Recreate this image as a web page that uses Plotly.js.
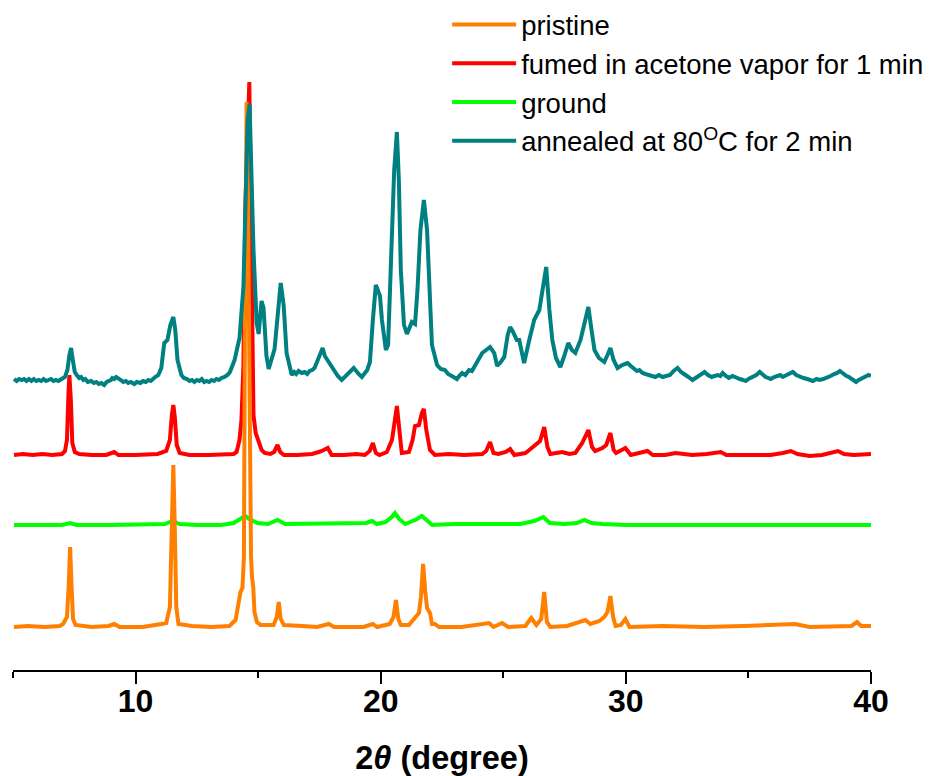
<!DOCTYPE html>
<html>
<head>
<meta charset="utf-8">
<script src="https://cdn.plot.ly/plotly-3.0.1.min.js"></script>
<style>
  html, body { margin: 0; padding: 0; background: #ffffff; }
  #chart { width: 932px; height: 776px; }
</style>
</head>
<body>
<div id="chart"></div>
<script>
// ---- Data (2θ in degrees, intensity in arbitrary units) ----
const seriesNames = ['pristine', 'fumed in acetone vapor for 1 min', 'ground', 'annealed at 80<sup>O</sup>C for 2 min'];

const pristineX = [5.04,5.6,6.3,6.9,7.04,7.2,7.27,7.33,7.39,7.45,7.55,8.2,8.9,9.13,9.35,10.3,11.05,11.25,11.4,11.48,11.54,11.6,11.66,11.75,12.3,13.1,13.83,14.08,14.2,14.28,14.36,14.42,14.46,14.5,14.53,14.57,14.62,14.67,14.71,14.75,14.8,14.85,14.95,15.1,15.63,15.76,15.84,15.92,16.05,16.8,17.4,17.88,18.1,19.3,19.68,19.85,20.37,20.52,20.62,20.72,20.82,21.15,21.4,21.56,21.64,21.73,21.82,21.89,22.01,22.09,22.21,22.38,23.3,24.42,24.6,24.95,25.2,25.9,26.14,26.35,26.55,26.67,26.78,26.92,27.6,28.35,28.55,28.92,29.12,29.25,29.37,29.48,29.58,29.8,29.98,30.15,31.5,33.2,34.8,36.9,37.5,39.2,39.43,39.6,40];
const pristineY = [0,1,0,1,3,10,40,80,40,8,2,0,1,3,0,0,3,4,20,100,162,100,20,3,1,0,1,7,27,35,39,70,300,480,525,470,300,150,70,50,40,15,5,2,2,10,25,8,2,1,0,3,0,0,3,0,3,10,27,8,2,2,9,14,30,63,35,19,14,3,3,0,0,4,0,4,0,1,9,2,8,35,5,0,1,7,3,6,10,15,31,10,1,2,8,0,1,0,1,3,0,1,5,1,1];

const fumedX = [5.04,5.4,5.8,6.2,6.6,7.0,7.12,7.2,7.26,7.3,7.36,7.42,7.52,7.7,8.2,8.8,9.13,9.3,10.0,10.9,11.25,11.4,11.48,11.54,11.6,11.68,11.8,12.2,13.0,13.6,14.0,14.12,14.24,14.32,14.4,14.48,14.57,14.64,14.7,14.77,14.81,14.9,15.02,15.14,15.26,15.5,15.65,15.79,15.9,16.05,16.6,17.2,17.47,17.6,17.84,18.0,18.5,19.0,19.35,19.55,19.68,19.8,19.95,20.25,20.46,20.58,20.66,20.74,20.86,21.15,21.3,21.4,21.56,21.68,21.76,21.86,22.01,22.21,22.8,23.4,24.14,24.3,24.46,24.6,24.8,25.1,25.28,25.45,25.9,26.06,26.3,26.5,26.67,26.8,26.92,27.4,27.7,27.94,28.22,28.47,28.62,28.75,29.04,29.2,29.37,29.5,29.6,29.98,30.2,30.88,31.1,31.6,32.03,32.4,32.7,33.3,33.87,34.1,34.8,35.5,35.9,36.4,36.73,37.0,37.5,38.0,38.4,38.65,38.9,39.3,40];
const fumedY = [0,1,0,1,0,1,4,15,60,80,55,12,3,1,0,0,3,0,0,1,4,15,40,50,38,10,2,0,0,1,1,3,15,35,90,250,330,373,250,90,40,22,12,5,2,1,3,10,3,0,0,1,3,4,7,0,0,1,0,4,12,2,0,3,15,40,49,30,2,3,15,29,30,42,46,25,5,0,1,0,1,4,13,2,1,3,6,0,2,5,10,14,28,8,1,3,1,2,12,25,8,4,7,10,22,5,2,7,0,4,0,0,2,1,0,1,3,0,0,0,0,2,4,1,-1,0,2,4,1,0,1];

const groundX = [5.04,6.0,7.0,7.33,7.6,9.0,10.5,11.2,11.5,11.8,12.5,13.5,14.0,14.3,14.47,14.7,14.98,15.4,15.79,16.1,17.0,18.0,19.0,19.4,19.64,19.85,20.2,20.45,20.58,20.75,21.0,21.4,21.68,21.9,22.1,23.0,24.0,25.0,25.7,26.26,26.63,26.9,27.5,28.0,28.31,28.6,29.04,30.0,31.0,33.0,35.0,37.0,40];
const groundY = [0,0,0,2,0,0,0,1,4,1,0,0,2,7,9,5,2,1,5,1,1,1,1,2,4,1,3,8,12,6,1,5,9,4,0,1,1,2,1,4,8,2,1,2,5,2,1,0,0,0,0,0,0];

// annealed pattern as [2θ, intensity] pairs
const annealedPts = [
  [5.04,1],[5.15,-1],[5.25,1],[5.35,0],[5.45,1],[5.55,-1],[5.65,1],[5.75,-1],[5.85,1],[5.95,-1],
  [6.05,0],[6.15,-1],[6.25,1],[6.35,-1],[6.45,0],[6.55,1],[6.65,-1],[6.75,0],[6.85,-1],[6.95,1],
  [7.05,2],[7.12,3],[7.22,10],[7.3,25],[7.37,32],[7.44,20],[7.52,8],[7.6,5],[7.7,2],[7.78,3],
  [7.87,0],[7.95,1],[8.05,-2],[8.19,-1],[8.3,-3],[8.4,-2],[8.5,-4],[8.6,-3],[8.72,-5],[8.82,-2],
  [8.9,-1],[9.0,0],[9.05,2],[9.13,1],[9.21,3],[9.3,1],[9.4,0],[9.5,-2],[9.6,-1],[9.7,-3],
  [9.8,-2],[9.95,-4],[10.05,-2],[10.2,-3],[10.3,-1],[10.42,-2],[10.52,0],[10.62,-1],[10.7,1],[10.8,3],
  [10.93,5],[11.05,12],[11.17,37],[11.3,40],[11.42,55],[11.54,63],[11.62,50],[11.71,20],[11.87,5],[11.97,2],
  [12.1,1],[12.2,-1],[12.3,0],[12.4,-2],[12.5,0],[12.6,-1],[12.7,1],[12.8,-2],[12.9,-1],[13.0,-2],
  [13.1,0],[13.2,-1],[13.3,1],[13.4,0],[13.5,2],[13.63,3],[13.75,5],[13.85,8],[14.04,20],[14.24,42],
  [14.4,93],[14.49,185],[14.57,258],[14.65,276],[14.69,240],[14.81,130],[14.94,57],[15.02,46],[15.14,79],[15.22,72],
  [15.34,24],[15.43,11],[15.67,31],[15.84,75],[15.92,97],[16.04,75],[16.16,27],[16.37,5],[16.47,8],[16.55,6],
  [16.65,9],[16.78,7],[16.9,8],[17.0,6],[17.1,9],[17.2,10],[17.3,12],[17.4,18],[17.55,28],[17.63,32],
  [17.72,24],[17.88,18],[18.1,8],[18.25,4],[18.41,0],[18.6,5],[18.9,12],[19.1,6],[19.23,3],[19.45,10],
  [19.56,18],[19.68,60],[19.8,95],[19.88,90],[19.97,84],[20.05,60],[20.21,30],[20.3,35],[20.42,110],[20.55,210],
  [20.66,248],[20.74,200],[20.82,110],[20.95,55],[21.07,46],[21.2,54],[21.27,58],[21.4,56],[21.5,90],[21.62,150],
  [21.76,180],[21.89,150],[22.0,80],[22.09,35],[22.3,15],[22.45,11],[22.62,10],[22.75,6],[22.9,4],[23.0,3],
  [23.11,1],[23.2,4],[23.32,7],[23.45,5],[23.6,10],[23.72,9],[23.85,15],[24.0,20],[24.14,27],[24.3,30],
  [24.46,33],[24.63,27],[24.75,14],[24.9,18],[25.04,23],[25.18,45],[25.28,53],[25.4,48],[25.55,40],[25.65,40],
  [25.85,17],[26.06,40],[26.26,60],[26.47,70],[26.62,95],[26.75,113],[26.88,70],[27.0,40],[27.15,22],[27.33,13],
  [27.5,25],[27.65,37],[27.8,30],[27.94,27],[28.15,40],[28.35,60],[28.47,73],[28.6,50],[28.72,30],[28.9,22],
  [29.12,18],[29.25,25],[29.37,32],[29.5,20],[29.66,12],[29.85,15],[30.07,17],[30.2,14],[30.3,12],[30.45,9],
  [30.55,10],[30.68,7],[30.8,6],[30.95,5],[31.09,4],[31.2,3],[31.35,5],[31.5,3],[31.65,4],[31.8,5],
  [31.95,9],[32.11,12],[32.25,8],[32.4,5],[32.55,3],[32.72,0],[32.85,2],[33.0,4],[33.1,6],[33.21,8],
  [33.35,5],[33.5,3],[33.62,4],[33.75,5],[33.85,4],[33.95,7],[34.08,4],[34.2,2],[34.35,4],[34.5,3],
  [34.65,1],[34.78,0],[34.89,-1],[35.0,1],[35.1,2],[35.2,3],[35.32,5],[35.46,8],[35.58,5],[35.7,3],
  [35.8,2],[35.91,1],[36.05,3],[36.18,4],[36.3,5],[36.4,3],[36.5,4],[36.65,6],[36.81,8],[36.95,5],
  [37.1,3],[37.25,2],[37.4,1],[37.52,0],[37.63,-1],[37.78,1],[37.9,0],[38.05,1],[38.2,2],[38.35,4],
  [38.5,6],[38.62,7],[38.73,9],[38.86,6],[39.0,4],[39.1,3],[39.2,1],[39.3,0],[39.39,-2],[39.5,0],
  [39.6,1],[39.7,2],[39.8,3],[39.9,5],[40.0,4]
];
const annealedX = annealedPts.map(p => p[0]);
const annealedY = annealedPts.map(p => p[1]);

// vertical stacking offsets of the four patterns
const offsets = { pristine: 41, fumed: 213, ground: 143, annealed: 288 };

const colors = { pristine: '#FF8000', fumed: '#FF0000', ground: '#00FF00', annealed: '#008080' };

function shift(arr, off) { return arr.map(v => v + off); }

function mk(name, xs, ys, off, color, rank) {
  return {
    type: 'scatter', mode: 'lines', name: name,
    x: xs, y: shift(ys, off),
    line: { color: color, width: 4 },
    legendrank: rank, hoverinfo: 'skip'
  };
}

// drawing order: ground (bottom), fumed, pristine, annealed (top)
const data = [
  mk(seriesNames[2], groundX, groundY, offsets.ground, colors.ground, 3),
  mk(seriesNames[1], fumedX, fumedY, offsets.fumed, colors.fumed, 2),
  mk(seriesNames[0], pristineX, pristineY, offsets.pristine, colors.pristine, 1),
  mk(seriesNames[3], annealedX, annealedY, offsets.annealed, colors.annealed, 4)
];

const FONT = 'Arial, "Liberation Sans", sans-serif';

const layout = {
  width: 932, height: 776,
  margin: { l: 13, r: 61, t: 0, b: 106 },
  paper_bgcolor: '#ffffff', plot_bgcolor: '#ffffff',
  font: { family: FONT, color: '#000000' },
  showlegend: true,
  legend: {
    x: 0.506, xanchor: 'left', y: 1.0, yanchor: 'top',
    bgcolor: 'rgba(0,0,0,0)', borderwidth: 0,
    font: { family: FONT, size: 27.5, color: '#000000' },
    traceorder: 'normal', itemwidth: 64, tracegroupgap: 0
  },
  xaxis: {
    range: [5, 40], autorange: false,
    showgrid: false, zeroline: false,
    showline: true, linecolor: '#000000', linewidth: 2,
    ticks: 'outside', ticklen: 12, tickwidth: 2, tickcolor: '#000000',
    tick0: 0, dtick: 10,
    minor: { ticks: 'outside', dtick: 5, ticklen: 6, tickwidth: 2, tickcolor: '#000000' },
    tickfont: { family: FONT, size: 32, weight: 'bold', color: '#000000' },
    ticklabelstandoff: -10,
    title: { text: '2<i>θ</i> (degree)', font: { family: FONT, size: 32.5, weight: 'bold', color: '#000000' }, standoff: 28 }
  },
  yaxis: {
    range: [-2, 668], autorange: false,
    visible: false, showgrid: false, zeroline: false
  }
};

Plotly.newPlot('chart', data, layout, { staticPlot: true, displayModeBar: false });
</script>
</body>
</html>
